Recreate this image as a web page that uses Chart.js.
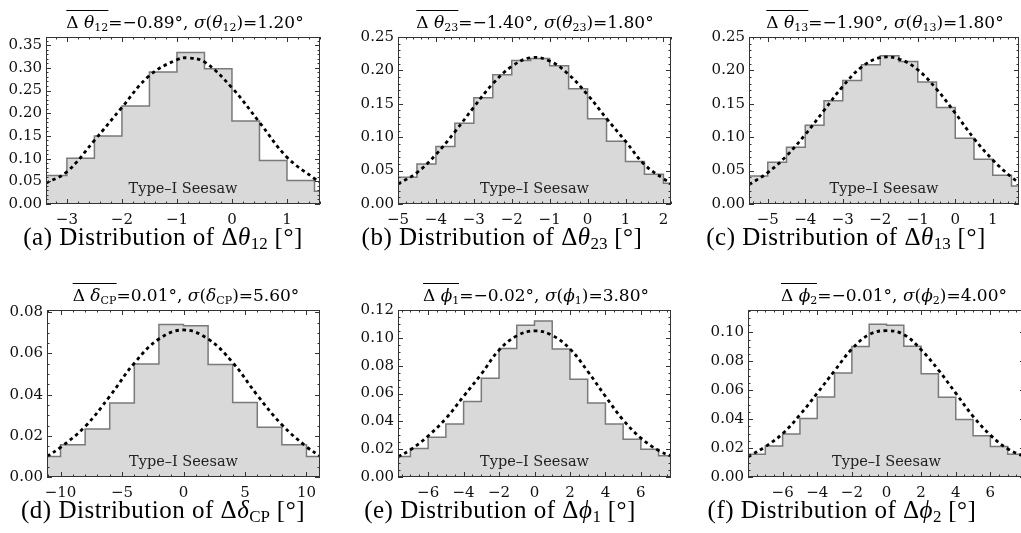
<!DOCTYPE html>
<html>
<head>
<meta charset="utf-8">
<script src="https://cdn.jsdelivr.net/npm/chart.js@4.4.1/dist/chart.umd.min.js"></script>
<style>
  html, body { margin: 0; padding: 0; background: #fff; }
  body { width: 1021px; height: 533px; position: relative; overflow: hidden; }
  .box { position: absolute; }
  .ttl { position: absolute; font-family: "DejaVu Serif"; font-size: 17px; line-height: 17px;
         white-space: nowrap; transform: translateX(-50%); color: #000; }
  .ttl sub { font-size: 11px; vertical-align: -3px; line-height: 0; }
  .ov { display: inline-block; border-top: 1.4px solid #000; padding-top: 3px; }
  .cap { position: absolute; font-family: "Liberation Serif"; font-size: 25px; line-height: 25px;
         letter-spacing: 0.5px; white-space: nowrap; transform: translateX(-50%); color: #000; }
  .cap sub { font-size: 17px; vertical-align: -4px; line-height: 0; letter-spacing: 0; }
</style>
</head>
<body>
<script>
// ---- data ----
// (a) delta theta12
const edgesA = [-3.5, -3, -2.5, -2, -1.5, -1, -0.5, 0, 0.5, 1, 1.5, 2];
const histA = [0.063, 0.101, 0.150, 0.216, 0.291, 0.334, 0.298, 0.183, 0.096, 0.052, 0.028];
const curveXA = [-3.38, -3, -2.5, -2, -1.5, -1, -0.8, -0.5, 0, 0.5, 1, 1.5, 1.6];
const curveYA = [0.046, 0.071, 0.140, 0.213, 0.283, 0.318, 0.322, 0.313, 0.256, 0.180, 0.103, 0.056, 0.048];
const xTicksA = [-3, -2, -1, 0, 1];
const yTicksA = [0, 0.05, 0.10, 0.15, 0.20, 0.25, 0.30, 0.35];

// (b) delta theta23
const edgesB = [-5, -4.5, -4, -3.5, -3, -2.5, -2, -1.5, -1, -0.5, 0, 0.5, 1, 1.5, 2, 2.5];
const histB = [0.040, 0.060, 0.086, 0.121, 0.159, 0.1935, 0.215, 0.218, 0.207, 0.1725, 0.1275, 0.094, 0.0635, 0.0445, 0.031];
const curveXB = [-5, -4.5, -4, -3.5, -3, -2.5, -2, -1.5, -1, -0.5, 0, 0.5, 1, 1.5, 2, 2.2];
const curveYB = [0.030, 0.047, 0.074, 0.108, 0.145, 0.180, 0.206, 0.219, 0.214, 0.194, 0.1635, 0.128, 0.094, 0.059, 0.038, 0.031];
const xTicksB = [-5, -4, -3, -2, -1, 0, 1, 2];
const yTicksB = [0, 0.05, 0.10, 0.15, 0.20, 0.25];

// (c) delta theta13
const edgesC = [-5.5, -5, -4.5, -4, -3.5, -3, -2.5, -2, -1.5, -1, -0.5, 0, 0.5, 1, 1.5, 2];
const histC = [0.042, 0.0625, 0.085, 0.118, 0.1545, 0.185, 0.2085, 0.222, 0.2135, 0.1825, 0.1445, 0.0985, 0.067, 0.043, 0.027];
const curveXC = [-5.5, -5, -4.5, -4, -3.5, -3, -2.5, -2, -1.5, -1, -0.5, 0, 0.5, 1, 1.5, 1.7];
const curveYC = [0.029, 0.047, 0.072, 0.104, 0.140, 0.176, 0.205, 0.219, 0.217, 0.201, 0.172, 0.136, 0.098, 0.066, 0.040, 0.032];
const xTicksC = [-5, -4, -3, -2, -1, 0, 1];
const yTicksC = [0, 0.05, 0.10, 0.15, 0.20, 0.25];

// (d) delta deltaCP
const edgesD = [-12, -10, -8, -6, -4, -2, 0, 2, 4, 6, 8, 10, 12];
const histD = [0.0100, 0.0157, 0.0233, 0.0359, 0.0549, 0.0740, 0.0734, 0.0546, 0.0362, 0.0241, 0.0157, 0.0100];
const curveXD = [-11.1, -10, -8, -6, -4, -2, 0, 2, 4, 6, 8, 10, 11.1];
const curveYD = [0.0100, 0.0144, 0.0245, 0.0392, 0.0553, 0.0670, 0.0714, 0.0670, 0.0556, 0.0397, 0.0254, 0.0147, 0.0102];
const xTicksD = [-10, -5, 0, 5, 10];
const yTicksD = [0, 0.02, 0.04, 0.06, 0.08];

// (e) delta phi1
const edgesE = [-8, -7, -6, -5, -4, -3, -2, -1, 0, 1, 2, 3, 4, 5, 6, 7, 8];
const histE = [0.0147, 0.0204, 0.0285, 0.038, 0.0542, 0.0710, 0.0924, 0.109, 0.1121, 0.0919, 0.0703, 0.0532, 0.038, 0.0271, 0.0200, 0.0152];
const curveXE = [-7.7, -7, -6, -5, -4, -3, -2, -1, 0, 1, 2, 3, 4, 5, 6, 7, 7.7];
const curveYE = [0.0145, 0.0195, 0.0295, 0.042, 0.058, 0.074, 0.0912, 0.1014, 0.105, 0.1018, 0.092, 0.076, 0.058, 0.041, 0.028, 0.019, 0.015];
const xTicksE = [-6, -4, -2, 0, 2, 4, 6];
const yTicksE = [0, 0.02, 0.04, 0.06, 0.08, 0.10, 0.12];

// (f) delta phi2
const edgesF = [-8, -7, -6, -5, -4, -3, -2, -1, 0, 1, 2, 3, 4, 5, 6, 7, 8];
const histF = [0.0158, 0.0215, 0.0297, 0.0405, 0.0554, 0.0719, 0.0902, 0.1057, 0.105, 0.0904, 0.0714, 0.0551, 0.0398, 0.0286, 0.0211, 0.0158];
const curveXF = [-8, -7, -6, -5, -4, -3, -2, -1, 0, 1, 2, 3, 4, 5, 6, 7, 8];
const curveYF = [0.014, 0.021, 0.030, 0.043, 0.058, 0.0735, 0.0885, 0.0985, 0.1012, 0.0985, 0.088, 0.074, 0.058, 0.042, 0.029, 0.0195, 0.014];
const xTicksF = [-6, -4, -2, 0, 2, 4, 6];
const yTicksF = [0, 0.02, 0.04, 0.06, 0.08, 0.10];

const titles = [
  '<span class="ov">Δ <i>θ</i><sub>12</sub></span>=−0.89°, <i>σ</i>(<i>θ</i><sub>12</sub>)=1.20°',
  '<span class="ov">Δ <i>θ</i><sub>23</sub></span>=−1.40°, <i>σ</i>(<i>θ</i><sub>23</sub>)=1.80°',
  '<span class="ov">Δ <i>θ</i><sub>13</sub></span>=−1.90°, <i>σ</i>(<i>θ</i><sub>13</sub>)=1.80°',
  '<span class="ov">Δ <i>δ</i><sub>CP</sub></span>=0.01°, <i>σ</i>(<i>δ</i><sub>CP</sub>)=5.60°',
  '<span class="ov">Δ <i>ϕ</i><sub>1</sub></span>=−0.02°, <i>σ</i>(<i>ϕ</i><sub>1</sub>)=3.80°',
  '<span class="ov">Δ <i>ϕ</i><sub>2</sub></span>=−0.01°, <i>σ</i>(<i>ϕ</i><sub>2</sub>)=4.00°'
];
const captions = [
  '(a) Distribution of Δ<i>θ</i><sub>12</sub> [°]',
  '(b) Distribution of Δ<i>θ</i><sub>23</sub> [°]',
  '(c) Distribution of Δ<i>θ</i><sub>13</sub> [°]',
  '(d) Distribution of Δ<i>δ</i><sub>CP</sub> [°]',
  '(e) Distribution of Δ<i>ϕ</i><sub>1</sub> [°]',
  '(f) Distribution of Δ<i>ϕ</i><sub>2</sub> [°]'
];
const seesawLabel = 'Type–I Seesaw';

// ---- layout ----
const panels = [
  { edges: edgesA, hist: histA, cx: curveXA, cy: curveYA, xt: xTicksA, yt: yTicksA, xmin: -3.38, xmax: 1.6, ymax: 0.368, xMinor: 0.2, yMinor: 0.01,
    L: 46, T: 37, W: 274, H: 167, tx: 185, ty: 10, capx: 163, capy: 224 },
  { edges: edgesB, hist: histB, cx: curveXB, cy: curveYB, xt: xTicksB, yt: yTicksB, xmin: -5.0, xmax: 2.2, ymax: 0.25, xMinor: 0.2, yMinor: 0.01,
    L: 398, T: 37, W: 273, H: 167, tx: 535, ty: 10, capx: 502, capy: 224 },
  { edges: edgesC, hist: histC, cx: curveXC, cy: curveYC, xt: xTicksC, yt: yTicksC, xmin: -5.5, xmax: 1.7, ymax: 0.25, xMinor: 0.2, yMinor: 0.01,
    L: 749, T: 37, W: 270, H: 167, tx: 885, ty: 10, capx: 846, capy: 224 },
  { edges: edgesD, hist: histD, cx: curveXD, cy: curveYD, xt: xTicksD, yt: yTicksD, xmin: -11.1, xmax: 11.1, ymax: 0.0811, xMinor: 1, yMinor: 0.005,
    L: 47, T: 310, W: 273, H: 167, tx: 186, ty: 283, capx: 163, capy: 497 },
  { edges: edgesE, hist: histE, cx: curveXE, cy: curveYE, xt: xTicksE, yt: yTicksE, xmin: -7.7, xmax: 7.7, ymax: 0.12, xMinor: 0.5, yMinor: 0.005,
    L: 398, T: 310, W: 273, H: 167, tx: 536, ty: 283, capx: 500, capy: 497 },
  { edges: edgesF, hist: histF, cx: curveXF, cy: curveYF, xt: xTicksF, yt: yTicksF, xmin: -8, xmax: 8, ymax: 0.1155, xMinor: 0.5, yMinor: 0.005,
    L: 748, T: 310, W: 277, H: 167, tx: 894, ty: 283, capx: 842, capy: 497 }
];

const Y_W = 46, X_H = 30, PAD_T = 14, PAD_R = 10;

// inward frame ticks on all four sides + inset label
const framePlugin = {
  id: 'frame',
  afterDatasetsDraw(chart, args, opts) {
    const { ctx, chartArea: a, scales: { x, y } } = chart;
    ctx.save();
    ctx.strokeStyle = '#333';
    ctx.lineWidth = 1;
    ctx.beginPath();
    const isMajor = (v, list) => list.some(t => Math.abs(t - v) < 1e-6);
    for (let n = Math.ceil(x.min / opts.xMinor); n * opts.xMinor <= x.max + 1e-9; n++) {
      const v = n * opts.xMinor;
      const len = isMajor(v, opts.xt) ? 5 : 2.5;
      const px = Math.round(x.getPixelForValue(v)) + 0.5;
      ctx.moveTo(px, a.bottom); ctx.lineTo(px, a.bottom - len);
      ctx.moveTo(px, a.top); ctx.lineTo(px, a.top + len);
    }
    for (let n = 0; n * opts.yMinor <= y.max + 1e-9; n++) {
      const v = n * opts.yMinor;
      const len = isMajor(v, opts.yt) ? 5 : 2.5;
      const py = Math.round(y.getPixelForValue(v)) + 0.5;
      ctx.moveTo(a.left, py); ctx.lineTo(a.left + len, py);
      ctx.moveTo(a.right, py); ctx.lineTo(a.right - len, py);
    }
    ctx.stroke();
    ctx.strokeRect(a.left + 0.5, a.top + 0.5, a.width - 1, a.height - 1);
    ctx.fillStyle = '#222';
    ctx.font = '14.5px "DejaVu Serif"';
    ctx.textAlign = 'center';
    ctx.textBaseline = 'alphabetic';
    ctx.fillText(seesawLabel, (a.left + a.right) / 2, a.bottom - 11);
    ctx.restore();
  }
};

panels.forEach((p, i) => {
  const box = document.createElement('div');
  box.className = 'box';
  const cw = Y_W + p.W + PAD_R, ch = PAD_T + p.H + X_H;
  box.style.left = (p.L - Y_W) + 'px';
  box.style.top = (p.T - PAD_T) + 'px';
  box.style.width = cw + 'px';
  box.style.height = ch + 'px';
  const cv = document.createElement('canvas');
  cv.width = cw; cv.height = ch;
  box.appendChild(cv);
  document.body.appendChild(box);

  const ttl = document.createElement('div');
  ttl.className = 'ttl';
  ttl.style.left = p.tx + 'px';
  ttl.style.top = p.ty + 'px';
  ttl.innerHTML = titles[i];
  document.body.appendChild(ttl);

  const cap = document.createElement('div');
  cap.className = 'cap';
  cap.style.left = p.capx + 'px';
  cap.style.top = p.capy + 'px';
  cap.innerHTML = captions[i];
  document.body.appendChild(cap);

  const histPts = p.edges.map((e, k) => ({ x: e, y: p.hist[Math.min(k, p.hist.length - 1)] }));
  const curvePts = p.cx.map((v, k) => ({ x: v, y: p.cy[k] }));

  new Chart(cv, {
    type: 'line',
    data: {
      datasets: [
        { data: curvePts, order: 0, borderColor: '#000', borderWidth: 2.8, borderDash: [3.5, 3.5],
          pointRadius: 0, tension: 0.4, fill: false },
        { data: histPts, order: 1, stepped: true, borderColor: '#7a7a7a', borderWidth: 1.5,
          backgroundColor: '#d9d9d9', fill: 'origin', pointRadius: 0 }
      ]
    },
    options: {
      responsive: false,
      animation: false,
      devicePixelRatio: 1,
      layout: { padding: { top: PAD_T, right: PAD_R, left: 0, bottom: 0 } },
      plugins: { legend: { display: false }, tooltip: { enabled: false }, frame: { xt: p.xt, yt: p.yt, xMinor: p.xMinor, yMinor: p.yMinor } },
      scales: {
        x: {
          type: 'linear', min: p.xmin, max: p.xmax,
          grid: { display: false, drawTicks: false }, border: { display: false },
          afterBuildTicks: s => { s.ticks = p.xt.map(v => ({ value: v })); },
          afterFit: s => { s.height = X_H; },
          ticks: { padding: 7, color: '#111', font: { family: 'DejaVu Serif', size: 15 },
                   callback: v => String(v).replace('-', '−'), maxRotation: 0 }
        },
        y: {
          type: 'linear', min: 0, max: p.ymax,
          grid: { display: false, drawTicks: false }, border: { display: false },
          afterBuildTicks: s => { s.ticks = p.yt.map(v => ({ value: v })); },
          afterFit: s => { s.width = Y_W; },
          ticks: { padding: 4, color: '#111', font: { family: 'DejaVu Serif', size: 15 },
                   callback: v => Number(v).toFixed(2) }
        }
      }
    },
    plugins: [framePlugin]
  });
});
</script>
</body>
</html>
